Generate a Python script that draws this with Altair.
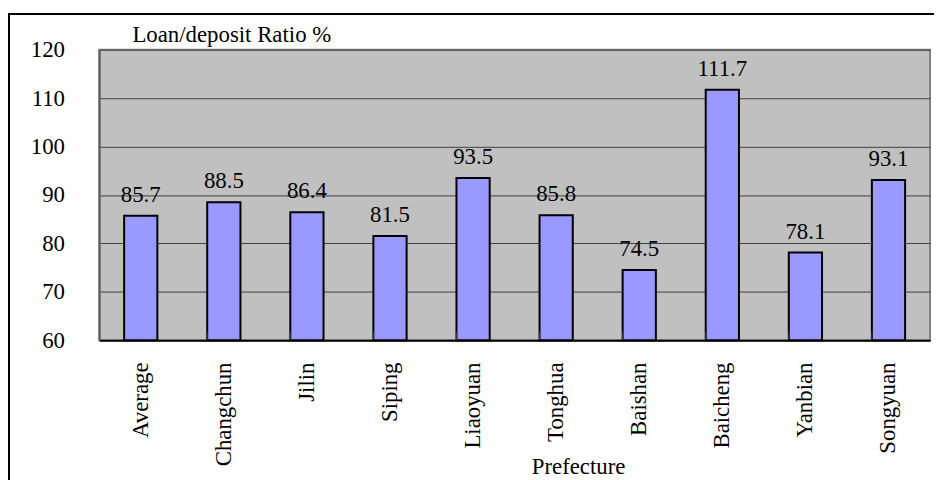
import altair as alt
import pandas as pd

categories = ["Average", "Changchun", "Jilin", "Siping", "Liaoyuan",
              "Tonghua", "Baishan", "Baicheng", "Yanbian", "Songyuan"]
ratios = [85.7, 88.5, 86.4, 81.5, 93.5, 85.8, 74.5, 111.7, 78.1, 93.1]
y_ticks = [60, 70, 80, 90, 100, 110, 120]

FONT = "Liberation Serif"
FS = 23
PW, PH = 838, 293

df = pd.DataFrame({"cat": categories, "val": ratios})
df["label"] = [f"{v:.1f}" for v in ratios]
df_bound = pd.DataFrame({"cat": categories[1:]})

xscale = alt.Scale(domain=categories, paddingInner=0.6, paddingOuter=0.3)
yscale = alt.Scale(domain=[60, 120], nice=False, zero=False)

x_enc = alt.X("cat:N", sort=categories, scale=xscale,
              axis=alt.Axis(title="Prefecture", labelAngle=-90, labelAlign="right",
                            labelBaseline="middle", labelPadding=22, ticks=False,
                            labelFont=FONT, labelFontSize=FS, labelColor="black",
                            titleFont=FONT, titleFontSize=FS, titleFontWeight="normal",
                            titleColor="black", titleX=483, titleY=127,
                            titleAlign="center", titleBaseline="middle",
                            domainColor="black", domainWidth=2))

bars = alt.Chart(df).mark_bar(fill="#9999FF", stroke="black", strokeWidth=2).encode(
    x=x_enc,
    y=alt.Y("val:Q", scale=yscale,
            axis=alt.Axis(title="Loan/deposit Ratio %", values=y_ticks, ticks=False,
                          labelPadding=35, labelFont=FONT, labelFontSize=FS,
                          labelColor="black", labelBaseline="middle",
                          grid=True, gridColor="#404040", gridWidth=1,
                          domainColor="#606060", domainWidth=2,
                          titleAngle=0, titleX=33, titleY=-15, titleAlign="left",
                          titleBaseline="middle", titleFont=FONT, titleFontSize=FS,
                          titleFontWeight="normal", titleColor="black")),
    y2=alt.datum(60),
)

labels = alt.Chart(df).mark_text(font=FONT, fontSize=FS, baseline="bottom", dy=-9,
                                 color="black").encode(
    x=alt.X("cat:N", sort=categories, scale=xscale),
    y=alt.Y("val:Q", scale=yscale),
    text="label:N",
)

ticks = alt.Chart(df_bound).mark_rule(color="#404040", strokeWidth=1).encode(
    x=alt.X("cat:N", sort=categories, scale=xscale, bandPosition=0),
    y=alt.value(PH),
    y2=alt.value(PH - 8),
)

border = alt.Chart(alt.Data(values=[{"a": 1}])).mark_rect(
    fill="white", fillOpacity=0, stroke="black", strokeWidth=2).encode(
    x=alt.value(-91), x2=alt.value(PW + 40),
    y=alt.value(-36), y2=alt.value(PH + 200),
)

chart = alt.layer(bars, ticks, labels, border).properties(
    width=PW, height=PH,
    autosize=alt.AutoSizeParams(type="none"),
    padding={"left": 92, "top": 40, "right": 4, "bottom": 139},
    background="white",
).configure_view(fill="#C0C0C0", stroke="#808080", strokeWidth=2)

chart.save("out.html", embed_options={"renderer": "svg", "actions": False})
